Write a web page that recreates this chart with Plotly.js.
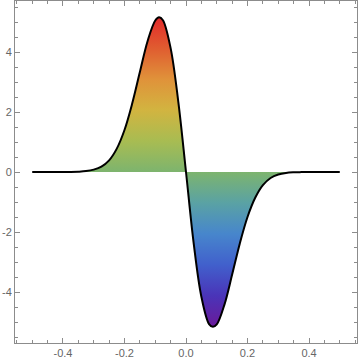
<!DOCTYPE html>
<html>
<head>
<meta charset="utf-8">
<script src="https://cdn.plot.ly/plotly-3.0.1.min.js"></script>
<style>html,body{margin:0;padding:0;background:#fff;}#chart{width:360px;height:361px;}</style>
</head>
<body>
<div id="chart"></div>
<script>
// values
var xValues = [-0.5, -0.475, -0.45, -0.425, -0.4, -0.375, -0.35, -0.325, -0.3, -0.275, -0.25, -0.225, -0.2, -0.175, -0.15, -0.125, -0.1, -0.0875, -0.075, -0.05, -0.025, 0,
               0.025, 0.05, 0.075, 0.0875, 0.1, 0.125, 0.15, 0.175, 0.2, 0.225, 0.25, 0.275, 0.3, 0.325, 0.35, 0.375, 0.4, 0.425, 0.45, 0.475, 0.5];
var yValues = [0, 0, 0, 0, 0.001, 0.003, 0.01, 0.03, 0.08, 0.18, 0.39, 0.78, 1.40, 2.28, 3.33, 4.36, 5.05, 5.16, 5.06, 4.13, 2.34, 0,
               -2.38, -4.16, -5.07, -5.16, -5.08, -4.42, -3.42, -2.38, -1.50, -0.86, -0.44, -0.20, -0.085, -0.032, -0.011, -0.004, -0.001, 0, 0, 0, 0];
var xTickVals = [-0.4, -0.2, 0, 0.2, 0.4];
var xTickText = ["-0.4", "-0.2", "0.0", "0.2", "0.4"];
var yTickVals = [-4, -2, 0, 2, 4];
var yTickText = ["-4", "-2", "0", "2", "4"];
var fillColors = [
  [0.0, "#6a1a9a"], [0.1, "#4a34b8"], [0.2, "#4160cc"], [0.3, "#4786cc"], [0.4, "#5aa2a4"],
  [0.5, "#7db46e"], [0.6, "#a8bc52"], [0.7, "#d2b440"], [0.8, "#e0923a"], [0.9, "#e05c30"], [1.0, "#e22a2a"]
];

var trace = {
  x: xValues, y: yValues, type: "scatter", mode: "lines",
  line: {color: "#000", width: 2, shape: "spline", smoothing: 1},
  fill: "tozeroy",
  fillgradient: {type: "vertical", start: -5.16, stop: 5.16, colorscale: fillColors},
  hoverinfo: "skip"
};

var axisCommon = {
  showgrid: false, zeroline: false, showline: true, linecolor: "#8c8c8c", linewidth: 1,
  mirror: "allticks", ticks: "inside", ticklen: 5, tickcolor: "#8c8c8c", tickwidth: 1,
  tickfont: {family: "Liberation Sans", size: 11, color: "#666"}, tickmode: "array"
};

var layout = {
  width: 360, height: 361,
  margin: {l: 15, r: 3, t: 1, b: 18},
  paper_bgcolor: "#fff", plot_bgcolor: "#fff",
  showlegend: false,
  xaxis: Object.assign({}, axisCommon, {
    range: [-0.556, 0.556], tickvals: xTickVals, ticktext: xTickText,
    minor: {dtick: 0.05, ticks: "inside", ticklen: 3, tickcolor: "#8c8c8c"}
  }),
  yaxis: Object.assign({}, axisCommon, {
    range: [-5.7, 5.7], tickvals: yTickVals, ticktext: yTickText,
    minor: {dtick: 0.5, ticks: "inside", ticklen: 3, tickcolor: "#8c8c8c"}
  })
};

Plotly.newPlot("chart", [trace], layout, {displayModeBar: false, staticPlot: true});
</script>
</body>
</html>
